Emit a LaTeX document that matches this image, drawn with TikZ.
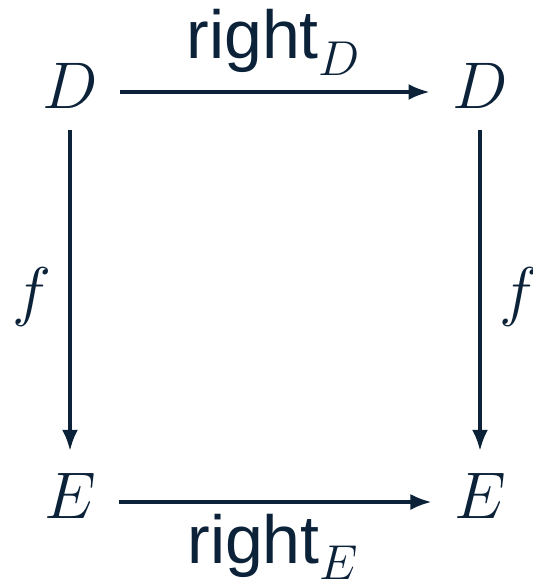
\RequirePackage{fix-cm}
\documentclass[tikz,border=0pt]{standalone}
\usepackage{fontspec}
\setsansfont{Liberation Sans}
\usetikzlibrary{arrows.meta}
\definecolor{ink}{HTML}{0B2239}
\DeclareMathSizes{66}{66}{49}{36}
\begin{document}
\begin{tikzpicture}[x=1pt,y=-1pt,
  font=\fontsize{66}{79}\selectfont,
  obj/.style={inner xsep=22.5pt, inner ysep=22pt, text=ink},
  lab/.style={inner sep=0pt, text=ink},
  arr/.style={draw=ink, line width=3.2pt, -{Latex[length=21pt,width=16pt]}}]
\useasboundingbox (0,0) rectangle (532,585);
\node[obj] (D1) at (70,85.5) {$D$};
\node[obj] (D2) at (480,85.5) {$D$};
\node[obj] (E1) at (70,495.5) {$E$};
\node[obj] (E2) at (480,495.5) {$E$};
\draw[arr] ([yshift=-6.5pt]D1.east) -- node[lab, anchor=base, yshift=33pt, xshift=-1.5pt] (rD) {$\mbox{\fontsize{68}{80}\selectfont\sffamily right}_D$} ([yshift=-6.5pt]D2.west);
\draw[arr] ([yshift=-6.5pt]E1.east) -- node[lab, anchor=base, yshift=-61pt, xshift=-2pt] (rE) {$\mbox{\fontsize{68}{80}\selectfont\sffamily right}_E$} ([yshift=-6.5pt]E2.west);
\draw[arr] (D1.south) -- node[lab, anchor=base, xshift=-38.5pt, yshift=-23pt] (f1) {$f$} (E1.north);
\draw[arr] (D2.south) -- node[lab, anchor=base, xshift=38.5pt, yshift=-23pt] (f2) {$f$} (E2.north);
\end{tikzpicture}
\end{document}
